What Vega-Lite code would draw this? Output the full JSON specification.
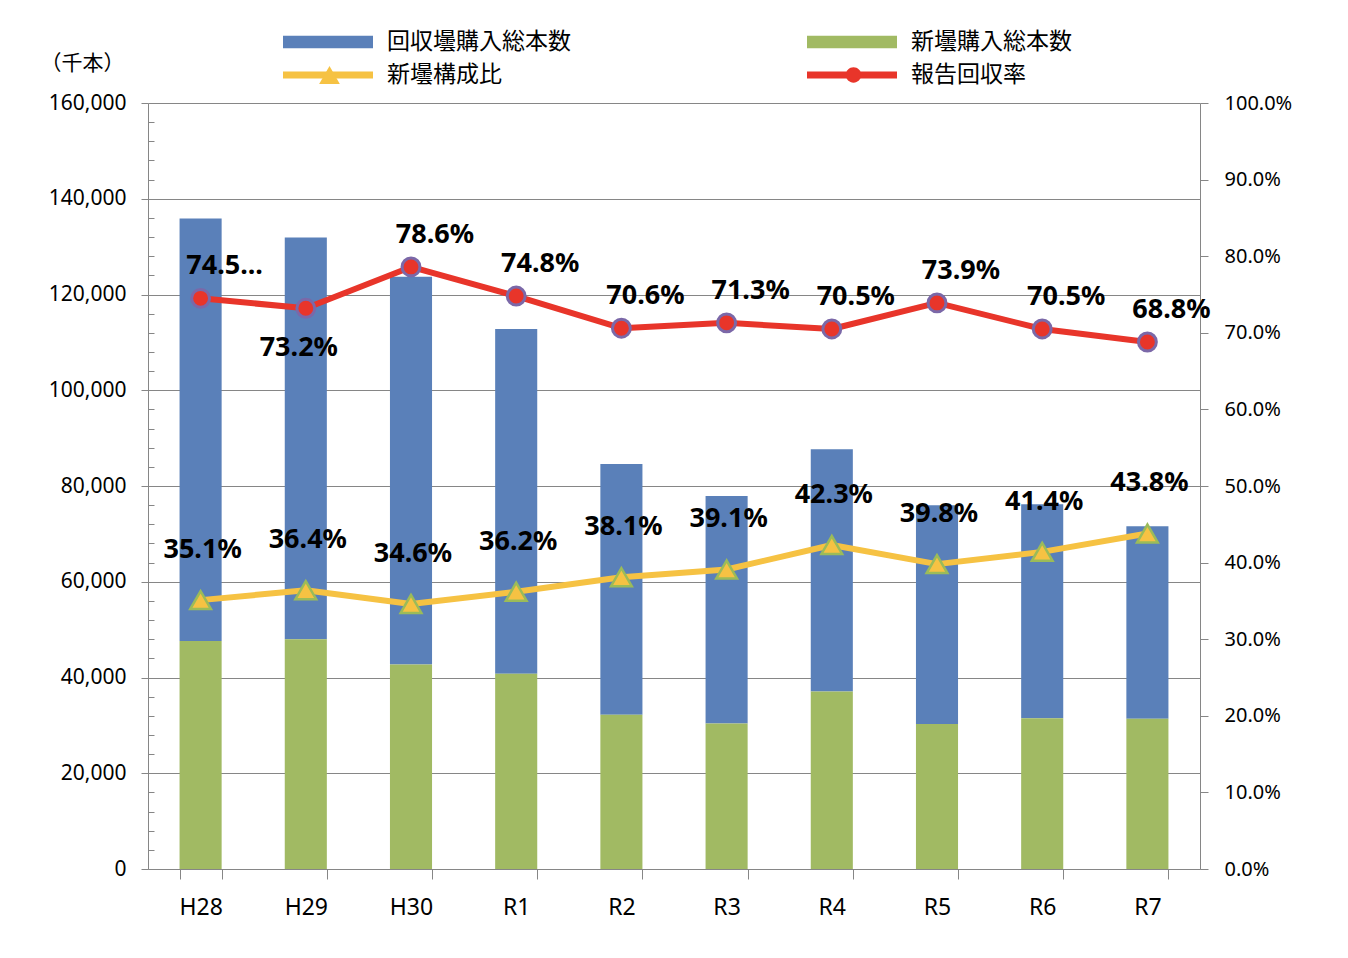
{
  "$schema": "https://vega.github.io/schema/vega-lite/v6.json",
  "width": 1052,
  "height": 766,
  "autosize": {"type": "none"},
  "padding": {"left": 148, "top": 103, "right": 148, "bottom": 89},
  "background": "white",
  "config": {
    "view": {"stroke": null},
    "font": "Noto Sans",
    "axis": {
      "labelFont": "Noto Sans",
      "labelFontSize": 20,
      "labelColor": "#000000",
      "domainColor": "#868686",
      "tickColor": "#868686",
      "gridColor": "#868686",
      "gridOpacity": 1,
      "domainWidth": 1,
      "tickWidth": 1,
      "gridWidth": 1
    }
  },
  "datasets": {
    "counts": [
      {"year": "H28", "series": "回収壜購入総本数", "value": 88300},
      {"year": "H28", "series": "新壜購入総本数", "value": 47600},
      {"year": "H29", "series": "回収壜購入総本数", "value": 83900},
      {"year": "H29", "series": "新壜購入総本数", "value": 48000},
      {"year": "H30", "series": "回収壜購入総本数", "value": 81000},
      {"year": "H30", "series": "新壜購入総本数", "value": 42700},
      {"year": "R1", "series": "回収壜購入総本数", "value": 72000},
      {"year": "R1", "series": "新壜購入総本数", "value": 40800},
      {"year": "R2", "series": "回収壜購入総本数", "value": 52400},
      {"year": "R2", "series": "新壜購入総本数", "value": 32200},
      {"year": "R3", "series": "回収壜購入総本数", "value": 47500},
      {"year": "R3", "series": "新壜購入総本数", "value": 30400},
      {"year": "R4", "series": "回収壜購入総本数", "value": 50600},
      {"year": "R4", "series": "新壜購入総本数", "value": 37100},
      {"year": "R5", "series": "回収壜購入総本数", "value": 45700},
      {"year": "R5", "series": "新壜購入総本数", "value": 30300},
      {"year": "R6", "series": "回収壜購入総本数", "value": 44700},
      {"year": "R6", "series": "新壜購入総本数", "value": 31500},
      {"year": "R7", "series": "回収壜購入総本数", "value": 40200},
      {"year": "R7", "series": "新壜購入総本数", "value": 31400}
    ],
    "rates": [
      {"year": "H28", "series": "新壜構成比", "pct": 35.1, "label": "35.1%"},
      {"year": "H29", "series": "新壜構成比", "pct": 36.4, "label": "36.4%"},
      {"year": "H30", "series": "新壜構成比", "pct": 34.6, "label": "34.6%"},
      {"year": "R1", "series": "新壜構成比", "pct": 36.2, "label": "36.2%"},
      {"year": "R2", "series": "新壜構成比", "pct": 38.1, "label": "38.1%"},
      {"year": "R3", "series": "新壜構成比", "pct": 39.1, "label": "39.1%"},
      {"year": "R4", "series": "新壜構成比", "pct": 42.3, "label": "42.3%"},
      {"year": "R5", "series": "新壜構成比", "pct": 39.8, "label": "39.8%"},
      {"year": "R6", "series": "新壜構成比", "pct": 41.4, "label": "41.4%"},
      {"year": "R7", "series": "新壜構成比", "pct": 43.8, "label": "43.8%"},
      {"year": "H28", "series": "報告回収率", "pct": 74.5, "label": "74.5..."},
      {"year": "H29", "series": "報告回収率", "pct": 73.2, "label": "73.2%"},
      {"year": "H30", "series": "報告回収率", "pct": 78.6, "label": "78.6%"},
      {"year": "R1", "series": "報告回収率", "pct": 74.8, "label": "74.8%"},
      {"year": "R2", "series": "報告回収率", "pct": 70.6, "label": "70.6%"},
      {"year": "R3", "series": "報告回収率", "pct": 71.3, "label": "71.3%"},
      {"year": "R4", "series": "報告回収率", "pct": 70.5, "label": "70.5%"},
      {"year": "R5", "series": "報告回収率", "pct": 73.9, "label": "73.9%"},
      {"year": "R6", "series": "報告回収率", "pct": 70.5, "label": "70.5%"},
      {"year": "R7", "series": "報告回収率", "pct": 68.8, "label": "68.8%"}
    ]
  },
  "encoding": {
    "x": {
      "field": "year",
      "type": "nominal",
      "sort": ["H28", "H29", "H30", "R1", "R2", "R3", "R4", "R5", "R6", "R7"],
      "scale": {"paddingInner": 0.6, "paddingOuter": 0.3},
      "axis": {
        "title": null,
        "labelAngle": 0,
        "labelFontSize": 23,
        "tickBand": "extent",
        "tickSize": 10,
        "labelPadding": 17,
        "grid": false
      }
    }
  },
  "layer": [
    {
      "data": {"name": "counts"},
      "mark": {"type": "bar"},
      "encoding": {
        "y": {
          "field": "value",
          "type": "quantitative",
          "stack": "zero",
          "scale": {"domain": [0, 160000], "nice": false},
          "axis": {
            "orient": "left",
            "values": [0, 20000, 40000, 60000, 80000, 100000, 120000, 140000, 160000],
            "format": ",.0f",
            "labelFontSize": 21,
            "grid": true,
            "tickSize": 7,
            "labelPadding": 15,
            "title": "（千本）",
            "titleAngle": 0,
            "titleX": -66,
            "titleY": -40,
            "titleAlign": "center",
            "titleBaseline": "middle",
            "titleFont": "Noto Sans CJK JP",
            "titleFontSize": 21,
            "titleFontWeight": "normal",
            "titleColor": "#000000"
          }
        },
        "color": {
          "field": "series",
          "type": "nominal",
          "scale": {
            "domain": ["回収壜購入総本数", "新壜構成比", "新壜購入総本数", "報告回収率"],
            "range": ["#5A80B9", "#F6C243", "#A1BA63", "#E8352A"]
          },
          "legend": {
            "title": null,
            "orient": "none",
            "legendX": 135,
            "legendY": -76,
            "columns": 2,
            "columnPadding": 236,
            "rowPadding": 3,
            "clipHeight": 30,
            "symbolSize": 8100,
            "labelFont": "Noto Sans CJK JP",
            "labelFontSize": 23,
            "labelColor": "#000000",
            "labelOffset": 14,
            "labelLimit": 400,
            "padding": 0,
            "encode": {
              "symbols": {
                "update": {
                  "shape": {"signal": "(datum.value === '回収壜購入総本数' || datum.value === '新壜購入総本数') ? 'M-1,-0.14H1V0.14H-1Z' : 'M-1,-0.078H1V0.078H-1Z'"},
                  "fill": {"scale": "color", "field": "value"},
                  "stroke": {"value": "transparent"},
                  "strokeWidth": {"value": 0},
                  "opacity": {"value": 1}
                }
              }
            }
          }
        },
        "order": {"field": "series", "sort": "descending"}
      }
    },
    {
      "data": {"name": "counts"},
      "mark": {"type": "point", "opacity": 0},
      "encoding": {
        "y": {
          "field": "value",
          "type": "quantitative",
          "scale": {"domain": [0, 160000], "nice": false},
          "axis": {
            "orient": "left",
            "values": [4000, 8000, 12000, 16000, 24000, 28000, 32000, 36000, 44000, 48000, 52000, 56000, 64000, 68000, 72000, 76000, 84000, 88000, 92000, 96000, 104000, 108000, 112000, 116000, 124000, 128000, 132000, 136000, 144000, 148000, 152000, 156000],
            "labels": false,
            "domain": false,
            "grid": false,
            "tickSize": -6,
            "title": null
          }
        }
      }
    },
    {
      "data": {"name": "rates"},
      "encoding": {
        "y": {
          "field": "pct",
          "type": "quantitative",
          "scale": {"domain": [0, 100], "nice": false},
          "axis": {
            "orient": "right",
            "values": [0, 10, 20, 30, 40, 50, 60, 70, 80, 90, 100],
            "labelExpr": "format(datum.value, '.1f') + '%'",
            "grid": false,
            "tickSize": 8,
            "labelPadding": 16,
            "title": null
          }
        }
      },
      "layer": [
        {
          "mark": {"type": "line", "strokeWidth": 6, "strokeJoin": "round", "strokeCap": "round"},
          "encoding": {
            "color": {"field": "series", "type": "nominal"}
          }
        },
        {
          "transform": [{"filter": "datum.series === '新壜構成比'"}],
          "mark": {"type": "point", "shape": "triangle-up", "filled": true, "size": 430, "fill": "#F6C243", "stroke": "#9BBB59", "strokeWidth": 2.5},
          "encoding": {
            "opacity": {
              "field": "series",
              "type": "ordinal",
              "scale": {"domain": ["新壜構成比"], "range": [1, 1]},
              "legend": {
                "title": null,
                "orient": "none",
                "legendX": 135,
                "legendY": -43,
                "clipHeight": 30,
                "symbolSize": 8100,
                "symbolType": "M0,-0.2L0.23,0.2H-0.23Z",
                "symbolFillColor": "#F6C243",
                "symbolStrokeColor": "#9BBB59",
                "symbolStrokeWidth": 3,
                "labelExpr": "''",
                "padding": 0
              }
            }
          }
        },
        {
          "transform": [{"filter": "datum.series === '報告回収率'"}],
          "mark": {"type": "point", "shape": "circle", "filled": true, "opacity": 1, "size": 320, "fill": "#E8352A", "stroke": "#7B68A8"},
          "encoding": {
            "strokeWidth": {
              "field": "series",
              "type": "ordinal",
              "scale": {"domain": ["報告回収率"], "range": [3, 3]},
              "legend": {
                "title": null,
                "orient": "none",
                "legendX": 659,
                "legendY": -43,
                "clipHeight": 30,
                "symbolSize": 8100,
                "symbolType": "M-0.17,0A0.17,0.17 0 1,0 0.17,0A0.17,0.17 0 1,0 -0.17,0Z",
                "symbolFillColor": "#E8352A",
                "symbolStrokeColor": "#7B68A8",
                "labelExpr": "''",
                "padding": 0
              }
            }
          }
        },
        {
          "transform": [{"filter": "datum.series === '報告回収率' && datum.year !== 'H29'"}],
          "mark": {"type": "text", "dx": 24, "dy": -32, "font": "Noto Sans", "fontSize": 27, "fontWeight": "bold", "color": "#000000", "baseline": "middle", "align": "center"},
          "encoding": {"text": {"field": "label"}}
        },
        {
          "transform": [{"filter": "datum.series === '報告回収率' && datum.year === 'H29'"}],
          "mark": {"type": "text", "dx": -7, "dy": 40, "font": "Noto Sans", "fontSize": 27, "fontWeight": "bold", "color": "#000000", "baseline": "middle", "align": "center"},
          "encoding": {"text": {"field": "label"}}
        },
        {
          "transform": [{"filter": "datum.series === '新壜構成比'"}],
          "mark": {"type": "text", "dx": 2, "dy": -50, "font": "Noto Sans", "fontSize": 27, "fontWeight": "bold", "color": "#000000", "baseline": "middle", "align": "center"},
          "encoding": {"text": {"field": "label"}}
        }
      ]
    }
  ],
  "resolve": {"scale": {"y": "independent"}}
}
